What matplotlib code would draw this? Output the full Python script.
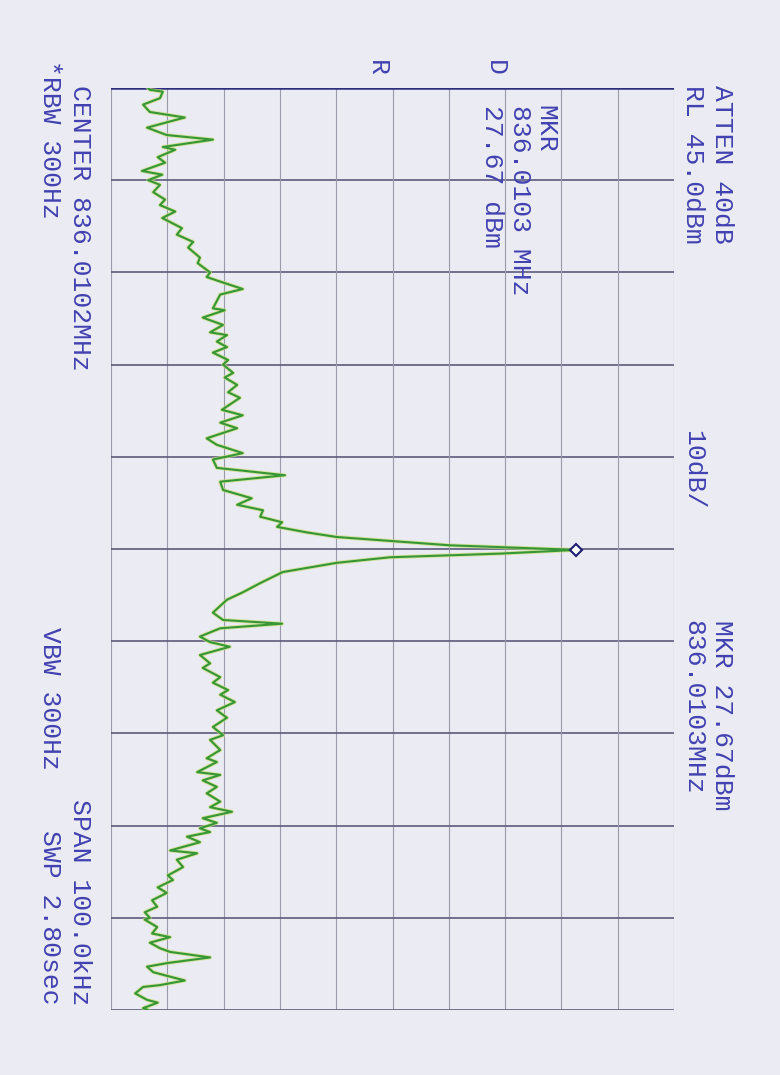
import matplotlib
matplotlib.use("Agg")
import matplotlib.pyplot as plt

# analyzer settings
CENTER_MHZ = 836.0102
SPAN_KHZ = 100.0
REF_LEVEL = 45.0      # dBm, right edge of the graticule
DB_PER_DIV = 10.0
MKR_OFFSET_KHZ = 0.1  # 836.0103 MHz
MKR_LEVEL = 27.67

# trace: frequency offset from center (kHz) and level (dBm)
freq_khz = [
    -50.0, -49.8, -49.6, -48.9, -48.2, -47.4, -46.8, -45.7, -44.9, -44.4,
    -43.6, -43.3, -42.5, -41.9, -41.0, -40.6, -40.0, -39.5, -38.7, -37.9,
    -37.3, -36.6, -35.9, -34.8, -34.1, -33.3, -32.7, -31.6, -31.0, -30.0,
    -29.5, -28.9, -28.2, -27.6, -26.1, -25.9, -25.1, -24.3, -23.5, -23.2,
    -22.5, -21.9, -21.3, -20.5, -20.0, -19.1, -18.6, -17.8, -17.0, -16.4,
    -15.1, -14.5, -13.7, -13.1, -12.0, -11.3, -10.4, -9.7, -8.8, -8.0,
    -7.3, -6.4, -5.5, -4.8, -4.2, -3.5, -2.9, -2.4, -1.8, -1.3,
    -0.4, 0.1, 0.5, 0.9, 1.5, 2.5, 3.7, 4.7, 5.5, 6.9,
    7.7, 8.1, 8.6, 9.5, 10.1, 10.6, 11.5, 12.4, 12.9, 13.9,
    14.5, 15.3, 15.8, 16.6, 17.5, 18.3, 19.3, 20.2, 20.7, 21.8,
    22.7, 23.1, 24.2, 24.5, 25.1, 25.8, 26.5, 27.4, 28.0, 28.5,
    29.2, 29.7, 30.3, 30.7, 31.2, 31.8, 32.7, 33.0, 33.7, 34.5,
    35.4, 35.9, 36.7, 37.3, 38.1, 38.8, 39.4, 40.0, 40.2, 41.0,
    41.7, 42.1, 42.7, 43.3, 43.7, 44.3, 44.9, 45.3, 45.9, 46.8,
    47.3, 47.5, 48.2, 48.9, 49.2, 49.8, 50.0,
]
level_dbm = [
    -48.4, -48.1, -45.8, -46.3, -49.3, -48.1, -41.9, -48.6, -45.1, -36.9,
    -45.8, -43.6, -46.7, -45.4, -49.5, -45.9, -48.4, -46.3, -47.5, -45.4,
    -46.3, -43.6, -45.9, -42.4, -43.3, -40.4, -41.3, -39.2, -39.6, -37.4,
    -38.0, -35.1, -31.6, -35.6, -36.9, -34.8, -38.7, -35.1, -37.4, -34.4,
    -36.2, -34.4, -36.9, -34.2, -35.1, -33.3, -34.8, -32.6, -34.2, -32.1,
    -35.3, -31.6, -35.6, -32.6, -38.0, -36.2, -31.6, -36.9, -36.2, -24.1,
    -35.6, -35.1, -30.0, -32.6, -28.0, -28.5, -24.6, -25.5, -20.2, -14.9,
    5.2, 27.67, 14.1, -5.5, -14.9, -24.5, -28.5, -31.6, -34.4, -36.9,
    -35.1, -24.6, -35.6, -39.2, -37.4, -33.9, -39.2, -37.4, -38.7, -35.6,
    -36.9, -34.2, -35.6, -33.0, -36.2, -34.4, -36.9, -35.1, -37.4, -35.6,
    -38.0, -36.2, -39.7, -35.6, -38.7, -36.2, -38.0, -35.6, -37.4, -33.5,
    -38.7, -36.2, -39.2, -37.4, -41.5, -39.2, -44.5, -39.7, -43.3, -42.2,
    -44.9, -44.0, -46.7, -45.1, -47.7, -46.8, -49.0, -48.1, -49.0, -46.8,
    -47.7, -44.5, -48.1, -46.3, -44.5, -37.4, -44.9, -48.6, -47.5, -41.9,
    -46.3, -49.3, -50.7, -48.6, -46.7, -49.3, -48.4,
]

PAPER = "#ebebf4"
INK = "#4141b0"

W, H = 780, 1075
fig = plt.figure(figsize=(W / 100, H / 100), dpi=100, facecolor=PAPER)

# graticule is drawn sideways: level runs left->right, frequency top->bottom
left, right, top, bottom = 111, 674, 88, 1010
ax = fig.add_axes([left / W, 1 - bottom / H, (right - left) / W, (bottom - top) / H])
ax.set_facecolor(PAPER)

low = REF_LEVEL - 10 * DB_PER_DIV
ax.set_xlim(low, REF_LEVEL)
ax.set_ylim(SPAN_KHZ / 2, -SPAN_KHZ / 2)

for i in range(11):
    ax.axvline(low + i * DB_PER_DIV, color="#9a9aa8", lw=0.8, zorder=1)
    ax.axhline(-SPAN_KHZ / 2 + i * SPAN_KHZ / 10, color="#5c5c7c", lw=1.2, zorder=1)
ax.axhline(-SPAN_KHZ / 2, color="#2e2e80", lw=1.8, zorder=1)
for s in ax.spines.values():
    s.set_visible(False)
ax.set_xticks([])
ax.set_yticks([])

# trace with the slight yellow fringe of the scan
ax.plot(level_dbm, freq_khz, color="#c8df78", lw=2.8, alpha=0.7, zorder=2)
ax.plot(level_dbm, freq_khz, color="#379636", lw=1.5, zorder=3)
ax.plot([MKR_LEVEL], [MKR_OFFSET_KHZ], marker="D", ms=6, mfc="white",
        mec="#1c1c70", mew=1.5, zorder=4)


def put(txt, x, y, va="top", size=19):
    fig.text(x / W, 1 - y / H, txt, rotation=270, ha="center", va=va,
             color=INK, fontsize=size, family="Liberation Mono")


put("ATTEN 40dB", 722, 85)
put("RL 45.0dBm", 693, 85)
put("10dB/", 693, 430)
put("MKR 27.67dBm", 722, 620)
put("836.0103MHz", 693, 620)
put("MKR", 545, 105)
put("836.0103 MHz", 520, 105)
put("27.67 dBm", 492, 105)
put("R", 377, 68, va="center")
put("D", 495, 68, va="center")
put("CENTER 836.0102MHz", 80, 85)
put("*RBW 300Hz", 50, 60)
put("VBW 300Hz", 50, 770, va="bottom")
put("SPAN 100.0kHz", 80, 1005, va="bottom")
put("SWP 2.80sec", 50, 1005, va="bottom")

fig.savefig("out.png", dpi=100, facecolor=PAPER)
